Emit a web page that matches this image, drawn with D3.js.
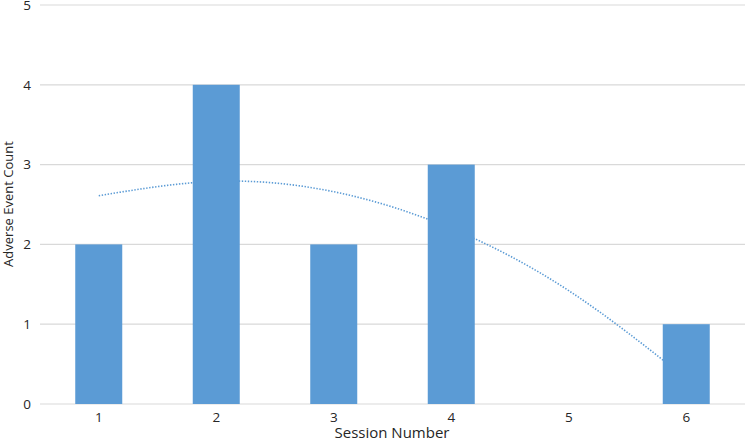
<!DOCTYPE html>
<html><head><meta charset="utf-8">
<script src="https://cdn.jsdelivr.net/npm/d3@7"></script>
<style>body{margin:0;background:#fff}svg text{font-family:"Open Sans","Liberation Sans",sans-serif;fill:#262626}</style>
</head><body><svg id="c" width="745" height="442"></svg>
<script>
const sessions = ["1","2","3","4","5","6"];
const counts = [2,4,2,3,0,1];
const trend = [2.61,2.79,2.66,2.20,1.42,0.32];
const yTicks = [0,1,2,3,4,5];

const svg = d3.select("#c");
const m = {l:40, r:0, t:5, b:38};
const W = 745, H = 442;
const x = d3.scaleBand().domain(sessions).range([m.l, W-m.r]).paddingInner(0.6).paddingOuter(0.3);
const y = d3.scaleLinear().domain([0,5]).range([H-m.b, m.t]);

svg.append("g").selectAll("line").data(yTicks).join("line")
  .attr("x1", m.l).attr("x2", W-m.r)
  .attr("y1", d=>y(d)).attr("y2", d=>y(d))
  .attr("stroke", "#d9d9d9").attr("stroke-width", 1.2);

svg.append("g").selectAll("text").data(yTicks).join("text")
  .attr("x", 31).attr("y", d=>y(d)).attr("dy","0.36em")
  .attr("text-anchor","end").attr("font-size", 13.5).text(d=>d);

const line = d3.line().x((d,i)=>x(sessions[i])+x.bandwidth()/2).y(d=>y(d)).curve(d3.curveNatural);
svg.append("path").datum(trend).attr("d", line)
  .attr("fill","none").attr("stroke","#5b9bd5").attr("stroke-width",1.6)
  .attr("stroke-dasharray","1.4 1.6");

svg.append("g").selectAll("rect").data(counts).join("rect")
  .attr("x",(d,i)=>x(sessions[i])).attr("width", x.bandwidth())
  .attr("y", d=>y(d)).attr("height", d=>y(0)-y(d))
  .attr("fill","#5b9bd5");

svg.append("g").selectAll("text").data(sessions).join("text")
  .attr("x", d=>x(d)+x.bandwidth()/2).attr("y", 422)
  .attr("text-anchor","middle").attr("font-size",13.5).text(d=>d);

svg.append("text").attr("x", 392).attr("y", 438).attr("text-anchor","middle")
  .attr("font-size",15).text("Session Number");
svg.append("text").attr("transform","translate(13,204) rotate(-90)")
  .attr("text-anchor","middle").attr("font-size",13).text("Adverse Event Count");
</script></body></html>
